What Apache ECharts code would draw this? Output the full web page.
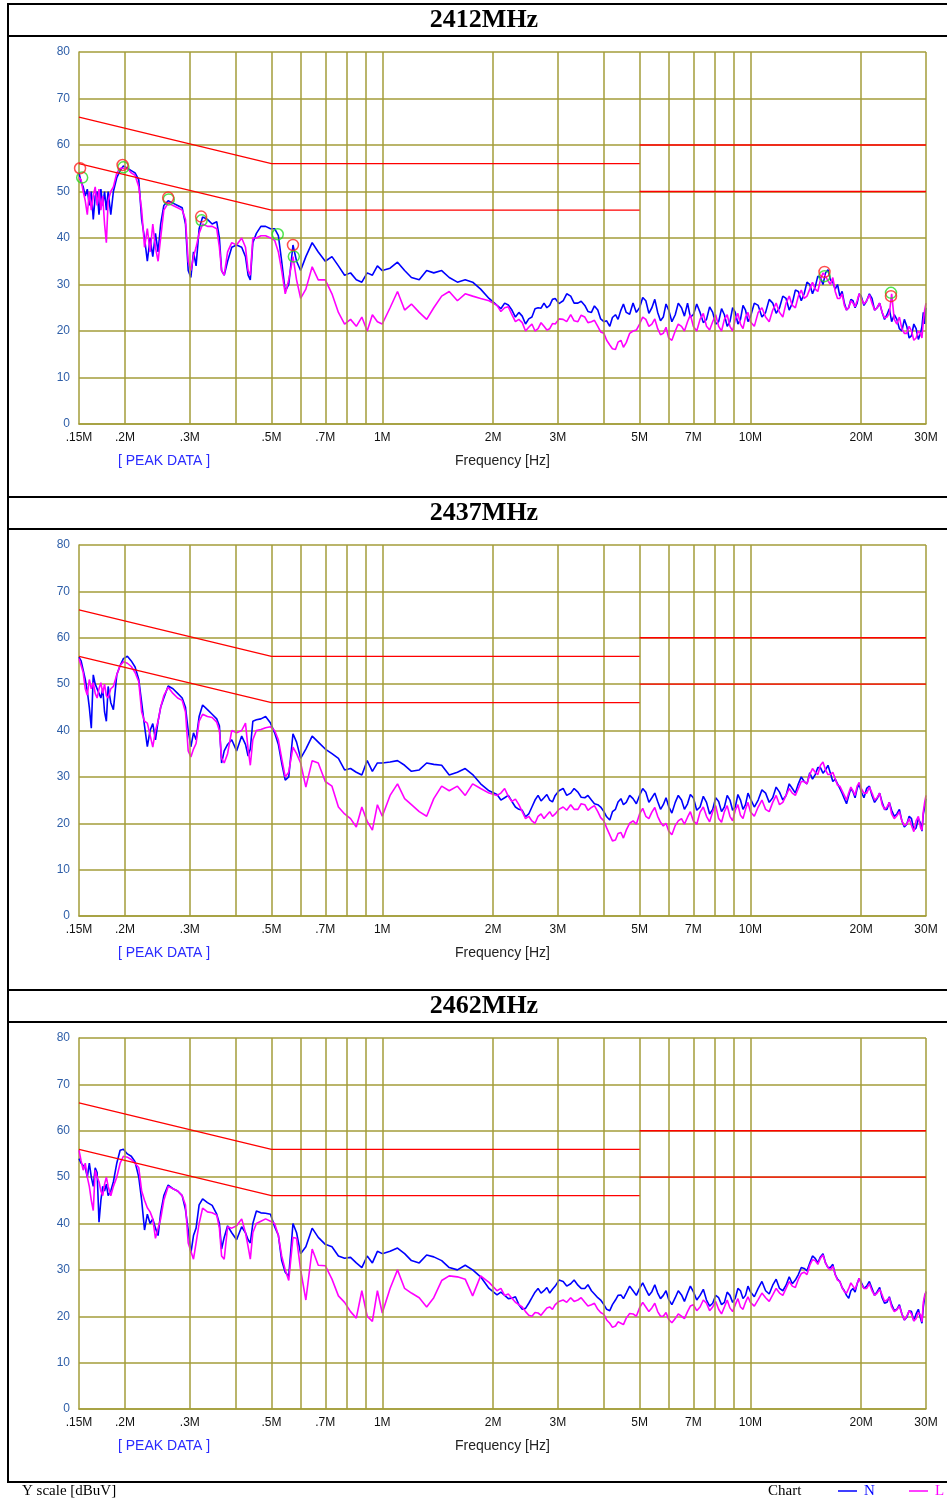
<!DOCTYPE html>
<html><head><meta charset="utf-8">
<script src="https://cdn.jsdelivr.net/npm/echarts@6/dist/echarts.min.js"></script>
<style>html,body{margin:0;padding:0;background:#fff}#c{width:947px;height:1499px}</style>
</head><body><div id="c"></div>
<script>
// ---------------- DATA ----------------
const panelTitles = ['2412MHz', '2437MHz', '2462MHz'];
const xTickVals = [0.15, 0.2, 0.3, 0.5, 0.7, 1, 2, 3, 5, 7, 10, 20, 30];
const xTickLabels = ['.15M', '.2M', '.3M', '.5M', '.7M', '1M', '2M', '3M', '5M', '7M', '10M', '20M', '30M'];
const xGridVals = [0.2, 0.3, 0.4, 0.5, 0.6, 0.7, 0.8, 0.9, 1, 2, 3, 4, 5, 6, 7, 8, 9, 10, 20, 30];

// limit lines (dBuV)
const limFreqLow = [0.15, 0.5, 5];
const qpLow = [66, 56, 56];
const avLow = [56, 46, 46];
const limFreqHigh = [5, 30];
const qpHigh = [60, 60];
const avHigh = [50, 50];

// measurement frequencies (MHz)
const freqMHz = [
  0.150, 0.152, 0.154, 0.156, 0.158, 0.160, 0.162, 0.164, 0.166, 0.168, 0.170, 0.172, 0.174, 0.176, 0.178, 0.180, 0.183, 0.186, 0.190, 0.194, 0.198,
  0.203, 0.208, 0.213, 0.218, 0.222, 0.226, 0.230, 0.234, 0.238, 0.242, 0.246, 0.250, 0.255, 0.262, 0.270, 0.278, 0.286, 0.292, 0.297, 0.302, 0.307, 0.312, 0.318, 0.325, 0.335, 0.345, 0.355, 0.361, 0.366, 0.372, 0.380, 0.390, 0.402, 0.415, 0.425, 0.432, 0.438, 0.445, 0.455, 0.468, 0.482, 0.497,
  0.510, 0.522, 0.533, 0.545, 0.557, 0.572, 0.585, 0.600, 0.620, 0.645, 0.670, 0.700, 0.730, 0.760, 0.790, 0.820, 0.850, 0.880, 0.910, 0.940, 0.970, 1.00, 1.05, 1.10, 1.15, 1.20, 1.26, 1.32, 1.38, 1.45, 1.52, 1.60, 1.68, 1.76, 1.85, 1.95,
  2.05, 2.10, 2.15, 2.20, 2.25, 2.30, 2.35, 2.40, 2.45, 2.50, 2.55, 2.60, 2.65, 2.70, 2.75, 2.80, 2.85, 2.90, 2.95, 3.02,
  3.1, 3.17, 3.25, 3.32, 3.4, 3.47, 3.55, 3.62, 3.7, 3.77, 3.85, 3.92, 4.0, 4.07, 4.15, 4.22, 4.3, 4.37, 4.45, 4.52,
  4.6, 4.7, 4.8, 4.9, 5.0, 5.1, 5.2, 5.3, 5.4, 5.5, 5.6, 5.7, 5.8, 5.9, 6.0, 6.12, 6.25, 6.37, 6.5, 6.62,
  6.75, 6.87, 7.0, 7.15, 7.3, 7.45, 7.6, 7.75, 7.9, 8.05, 8.2, 8.35, 8.5, 8.65, 8.8, 8.95, 9.1, 9.25, 9.4, 9.55,
  9.7, 9.85, 10, 10.25, 10.5, 10.75, 11, 11.25, 11.5, 11.75, 12, 12.25, 12.5, 12.75, 13, 13.25, 13.5, 13.75, 14, 14.25,
  14.5, 14.75, 15, 15.25, 15.5, 15.75, 16, 16.25, 16.5, 16.75, 17, 17.25, 17.5, 17.75, 18, 18.25, 18.5, 18.75, 19, 19.25,
  19.5, 19.75, 20, 20.35, 20.7, 21.05, 21.4, 21.75, 22.1, 22.45, 22.8, 23.15, 23.5, 23.85, 24.2, 24.6, 25, 25.4, 25.8, 26.2,
  26.6, 27, 27.4, 27.8, 28.2, 28.6, 29, 29.25, 29.5, 29.75, 30
];

// 2412MHz  N (blue) / L (magenta)
const n1 = [
  54, 52, 51, 49, 50.5, 47, 50, 44, 49, 50, 45, 50.5, 47, 50, 46, 50, 45, 50, 53, 54.5, 55.5,
  55, 54.5, 54, 52.5, 44, 40, 35, 40, 36, 41, 37, 43, 47, 48, 47.5, 47, 46.5, 43, 33, 31.5, 37, 34, 42, 44.5, 44, 43, 43.5, 40, 33, 32, 35, 38, 38.5, 38, 36, 32, 31, 39, 41, 42.5, 42.5, 42,
  42, 40.5, 35, 28.5, 30, 38.5, 35, 33, 36, 39, 37, 35, 36, 34, 32, 32.5, 31, 30.5, 32.5, 32, 34, 33, 33.5, 34.8, 33, 31.5, 31, 33, 32.5, 33, 31.5, 30.5, 31, 30.5, 29, 27,
  25.5, 24.8, 26, 25.6, 24.5, 23, 24, 23.2, 21.5, 22.6, 23, 24.8, 25, 24.9, 26, 25, 25.5, 26.8, 27, 25.9,
  26.5, 28, 27.5, 26, 26, 26.4, 25.5, 24.2, 24, 25.4, 24.5, 22.6, 22, 22.2, 21, 22.9, 23.5, 22.5, 24.5, 25.8,
  24, 23.6, 26, 24, 25, 27.2, 26.5, 23.8, 25, 26.8, 24, 22.2, 23, 25.8, 24.5, 22, 23.5, 26, 25, 23.2,
  26, 23, 23.5, 25.8, 24, 21.8, 22.5, 25.2, 24, 21.5, 22, 24.8, 23.5, 21, 22, 25, 24, 21.5, 22.5, 25.5,
  24.5, 22, 23, 26, 25.5, 23, 24, 26.8, 26, 23.8, 25, 27.5, 27, 24.5, 26, 28.8, 28.5, 26.5, 28, 30.5,
  30, 28, 29.5, 31.8, 31.5, 30, 32.5, 33.2, 31, 30.5, 29, 30, 27.5, 28.5, 26, 24.5, 25, 26.8, 26.5, 25,
  26, 28, 27.5, 25.5, 26.5, 28, 27, 24.5, 25, 26, 24, 22.5, 23.5, 24.8, 22, 23.5, 22.5, 20.5, 20, 22.5,
  21, 18.5, 19, 21.5, 20.5, 18.2, 19.5, 21, 24, 21.5, 25
];
const l1 = [
  53, 52.5, 50, 48, 45, 50, 46, 49, 51, 47, 50.5, 46, 49, 43, 39, 48, 50, 51, 54, 55, 55,
  55, 54, 53.5, 51, 46, 38, 42, 37, 43, 38, 35, 40, 46, 47.5, 47, 46.5, 46, 44, 35, 33, 36, 38, 41, 43, 42.5, 42.5, 42, 38, 33, 32, 37, 39, 38.5, 40, 38, 33, 32, 40, 40, 40.5, 40.5, 40,
  39.5, 37, 33, 28, 31, 36, 31, 27, 29, 33.8, 31, 31, 28, 24, 21.5, 22.5, 21, 23, 20, 23.5, 22, 21.5, 25, 28.5, 24.5, 25.8, 24, 22.5, 25, 27.5, 28.5, 26.5, 28, 27.5, 27, 26.5,
  25.5, 24.2, 25, 25.2, 23.5, 22, 22.5, 21.8, 20, 20.8, 21.5, 20, 20.5, 21.8, 21, 20.2, 20.5, 21.6, 21.5, 22.6,
  22.5, 22, 23.5, 22.2, 22, 23.4, 23, 21.8, 22, 22.3, 21, 19.8, 19.5, 18, 17, 16.2, 16, 17.6, 18, 16.5,
  17.5, 19.5, 20, 20.2, 21.5, 23, 22.5, 21, 21.5, 22.6, 20.5, 19.2, 19.5, 20.8, 18.5, 18, 20, 21.5, 21, 20,
  22, 23.5, 21, 20, 22.5, 23.8, 21, 20.2, 22, 23.5, 21, 20, 22.5, 23.5, 21, 20, 22.5, 23.8, 21.5, 20.5,
  23, 24, 22, 21, 24, 25, 23, 22, 24.5, 26, 24, 23, 26, 27.5, 25.5, 25, 27.5, 28.8, 27, 27.5,
  29, 30.5, 29, 28.5, 31, 32.5, 31.8, 30.8, 30, 31.5, 28.5, 27, 27, 28, 25.5, 24.5, 25, 26.5, 26, 25.2,
  26.5, 28, 27, 25.8, 26.5, 27.8, 26, 24.5, 25, 26, 24, 22.8, 23, 23.8, 28, 22.5, 21.5, 23, 20.5, 19.5,
  19.5, 21, 20, 18, 18.5, 20, 19.5, 18.5, 22, 24.5, 26
];
// 2437MHz
const n2 = [
  55.8, 55, 53, 51, 48.5, 45, 40.5, 52, 50, 50, 48, 47, 49, 44, 42, 49.5, 46, 44.5, 52, 54, 55.5,
  56, 55, 53.7, 51, 46, 41, 36.5, 40, 41.5, 38, 42, 45, 47, 49.6, 49, 48, 47, 45, 40, 36.5, 39.5, 38, 43, 45.5, 44.5, 43.5, 42.5, 41, 33, 35.6, 37, 38, 35.6, 38.8, 37, 34.5, 36, 42, 42.3, 42.5, 43, 41.6,
  39.5, 37, 33, 29.3, 30, 39.3, 37.5, 34, 36, 38.8, 37.5, 36, 35, 34, 31.5, 31.8, 31, 30.4, 33.5, 31.2, 33, 33, 33.2, 33.5, 32.5, 31.2, 31.5, 33, 32.7, 32.5, 30.4, 31, 31.8, 30.5, 28.5, 27,
  26.2, 25, 25.5, 26, 24.7, 23.5, 23, 22.8, 21.4, 22, 23.5, 25, 26, 24.8, 25.5, 26.2, 25, 24.6, 26, 27,
  27.5, 26, 26.5, 27.5, 26.7, 25.6, 25.5, 26, 25, 24.2, 24, 23.5, 22.5, 21.4, 20.7, 22.5, 23, 24.6, 25.3, 24,
  24.5, 26, 25.3, 24.2, 26, 27.5, 26.7, 24.5, 25.5, 26.5, 24.7, 23, 24, 25.5, 23.6, 22.2, 24.5, 26, 25, 23,
  24.2, 26.2, 25.5, 22.8, 23.5, 25.8, 24.5, 22, 23, 25.5, 24.7, 22.5, 23.5, 26, 25, 22.8, 23.5, 26.2, 25, 23,
  24, 26.5, 25.3, 23.5, 25, 27.2, 26.5, 24.5, 25.5, 27.8, 26.7, 25, 26, 28.5, 27.5, 26.5, 28.5, 30, 29, 28.5,
  30.9, 29.5, 30.5, 32, 32, 30.8, 31.5, 32.5, 30.8, 29, 29.5, 28.5, 27.5, 26.5, 25.3, 24.2, 26, 27.5, 26.8, 25.5,
  27.5, 28.5, 26.8, 25.5, 27.5, 28, 26, 24.5, 25.3, 26.5, 24.5, 23, 23, 24.5, 22.8, 21.5, 22, 23, 20.5, 19.2,
  19.8, 21.5, 21, 18.5, 19, 21, 20, 18.3, 22, 23.5, 25.3
];
const l2 = [
  55.5, 54, 52.5, 49, 47.6, 51, 49, 50.3, 48, 47, 49, 50.3, 48, 50, 47.5, 47, 49, 49.5, 52, 54, 54.8,
  54.5, 53.8, 52.5, 50.5, 44, 42, 41.6, 39, 36.4, 40, 42, 45, 47.5, 49.3, 48, 47, 46.5, 44, 35.6, 34.3, 36, 37.2, 42, 43.5, 43, 42.8, 41.8, 40, 34, 33, 35, 40, 39.5, 40, 41.6, 36, 32.5, 38, 40, 40.2, 40.6, 40.8,
  40, 38, 34, 30, 31, 36.4, 35, 33, 27.8, 33.5, 33, 29, 28, 23.5, 22, 21, 19.2, 23.5, 20.4, 18.5, 24, 21.5, 26, 28.5, 25.3, 24, 22.5, 21.5, 25.3, 28, 27, 28, 26, 28.5, 27.5, 26.5,
  26, 26.5, 27.5, 25.8, 24.7, 25.2, 24, 22.5, 21, 21.5, 20.5, 20, 21.5, 22, 21, 21.8, 22.5, 21.5, 22, 23,
  23.5, 22.8, 24, 23, 23, 24.2, 24, 22.8, 23.4, 23.8, 22.5, 21.2, 20.5, 19, 17.5, 16.2, 16.4, 17.8, 18, 16.8,
  18.5, 20, 20.5, 19.8, 22, 23.2, 21.5, 21, 22.4, 23.4, 21.5, 20.2, 19.4, 20, 18.3, 17.5, 19.5, 20.5, 21, 19.8,
  21.3, 22.5, 20.5, 19.8, 22.4, 23.5, 21.5, 20.3, 22.5, 23.8, 21, 20.2, 22.5, 23.8, 21.5, 20.5, 22.8, 24, 21.7, 21,
  23, 24.5, 22.5, 21.5, 23.5, 25, 23, 22.5, 24.5, 26, 24, 24.5, 26, 27.5, 26.5, 26, 27.5, 29, 29, 28.5,
  30.5, 31.8, 31, 30.5, 32.5, 33.2, 31.5, 30.5, 30.5, 31, 29.6, 28.2, 28, 27, 26, 25, 26.5, 27.8, 27, 26,
  28, 28.8, 27.5, 26.5, 26.5, 27.8, 26.5, 25, 25.5, 26.5, 24, 23, 23.5, 24.5, 22, 21, 21.6, 22.5, 20.5, 19.5,
  19.8, 21, 19.5, 18.2, 20.5, 21.5, 19, 18.5, 22.5, 24.5, 26
];
// 2462MHz
const n3 = [
  54, 53, 52.5, 52, 50, 53, 50, 48, 52, 51, 40.3, 45, 48, 47, 48.5, 46, 47, 49, 53, 55.8, 56,
  55, 54.5, 53.3, 50, 45, 38.6, 42, 40, 41, 39, 37.4, 42.3, 46, 48.3, 47.5, 47, 46, 43, 38.6, 33.6, 37.4, 39, 44, 45.3, 44.5, 43.9, 42, 40, 34.5, 37, 39.5, 38, 36.5, 39.3, 38, 36.5, 35.8, 40, 42.7, 42.3, 42.2, 42,
  39.3, 37.5, 32, 29.5, 28.6, 40, 38, 33.5, 35, 39, 37, 35.5, 35, 33, 32.5, 32.7, 31.5, 30.5, 33, 31.5, 34, 33.5, 34, 34.7, 33.5, 32, 31.5, 33.2, 32.8, 32, 30.5, 30, 31, 30, 28.5, 26,
  24.6, 25.2, 24.5, 23.8, 23.9, 24.2, 22.5, 21.5, 21.7, 22.8, 24, 25.2, 26, 25, 25.5, 26.2, 25, 25.8, 26.5, 27.8,
  27.5, 26.5, 27, 27.8, 26.7, 26, 26, 26.8, 25.5, 24.8, 24, 23.5, 22.5, 21.5, 21.2, 22.5, 23.5, 24.5, 24.6, 23.8,
  25, 26.5, 25.5, 24.5, 26, 27.2, 25.8, 24.5, 25.3, 26.8, 25, 23.8, 24.5, 25.5, 23.6, 22.5, 24, 25.5, 24.6, 23.2,
  25, 26.5, 25.3, 23.5, 24.5, 25.8, 23.5, 22.2, 22.8, 24.5, 24, 22.5, 23, 25.2, 24.5, 23, 23.9, 26, 25.5, 23.8,
  24.5, 26.5, 25.3, 24.2, 26, 27.5, 25.5, 24.8, 26.7, 28, 26, 25.5, 26.7, 28.5, 27, 27.8, 29, 30.5, 30.3, 29.8,
  31.5, 33, 32.5, 31.5, 32.8, 33.5, 31.5, 30.5, 30.5, 31.2, 29, 28, 27.5, 26.2, 25.5, 24.5, 23.9, 25.5, 26, 25.2,
  27, 28.2, 27.3, 26, 26.5, 27.5, 26, 24.5, 25.3, 26.2, 24, 22.8, 23, 24.2, 22.5, 21.2, 21.5, 22.5, 20.5, 19.2,
  19.8, 21.2, 21, 19, 20.5, 21.5, 19.5, 18.5, 22, 24, 25.3
];
const l3 = [
  55.8, 53.5, 51.5, 53, 50, 48, 45, 42.8, 51.5, 50, 49, 47, 46, 48.5, 50, 48, 46, 48, 50, 53, 54.5,
  54.3, 53.8, 53, 52, 47, 45, 43.4, 42.5, 41, 36.8, 39, 41, 45, 48, 47.5, 47, 46, 44, 35.8, 34, 32.3, 35.8, 40, 43.3, 42.5, 42.3, 41.8, 39, 33, 32.3, 39.3, 39, 39.5, 41, 38, 35, 32.3, 38, 40, 40.5, 41, 40.5,
  40, 37.4, 33, 30, 27.7, 37, 36.8, 30, 23.5, 34.5, 31, 30.9, 28, 24.4, 23, 21, 19.6, 25.5, 20, 18.9, 25.5, 20.7, 26, 30, 26, 25, 24, 22, 24, 27.7, 28.7, 28.5, 28, 24.4, 28.7, 27.3,
  25.5, 26, 24.5, 24.8, 23.9, 23, 22.5, 22, 21, 20.2, 20, 20.8, 20.7, 20.2, 21, 21.8, 22, 21.5, 22.5, 23.2,
  23.5, 23, 24, 23.2, 23.5, 24, 23, 22.2, 22.5, 22.8, 21.5, 20.8, 20.4, 19.2, 18.5, 17.6, 17.9, 18.8, 18.5, 18.2,
  19.6, 20.6, 20.5, 20, 21.8, 23, 22, 21, 21.8, 22.8, 21, 20, 20, 20.8, 19.3, 18.6, 19.5, 20.5, 20, 19.5,
  21, 22.2, 22.5, 21.2, 22, 23.5, 22.8, 21.2, 22, 23.2, 21.5, 20.5, 22, 23.5, 21.8, 21, 22.5, 23.8, 22, 21.5,
  23, 24.2, 23, 22.2, 23.6, 25, 24, 23.2, 24.6, 26, 25, 24.5, 26, 27.5, 26.5, 26.2, 28, 29.2, 29.5, 29,
  31, 32.2, 32, 31.2, 32.5, 33.2, 31.5, 30.5, 30, 30.8, 29, 27.8, 27.5, 26.2, 25.3, 25, 26, 27.2, 26.5, 25.8,
  27, 28.2, 27, 26, 26, 27, 25.5, 24.5, 25, 25.8, 24.6, 23.2, 23.5, 24, 22, 21, 21.4, 22.2, 20.5, 19.2,
  20, 21.2, 20.5, 19, 19.5, 20.8, 20.3, 18.8, 23, 24.5, 25.3
];

// peak markers (2412MHz only)
const peakRedFreq = [0.151, 0.197, 0.262, 0.322, 0.572, 15.9, 24.1];
const peakRedVal  = [55, 55.7, 48.7, 44.6, 38.5, 32.7, 27.5];
const peakGreenFreq = [0.153, 0.198, 0.263, 0.323, 0.52, 0.575, 15.9, 24.1];
const peakGreenVal  = [53, 55.2, 48.3, 43.8, 40.8, 36, 31.8, 28.2];

// ---------------- CHART ----------------
const SANS = '"Liberation Sans", Arial, sans-serif';
const SERIF = '"Liberation Serif", "Times New Roman", serif';
const OLIVE = '#a39d3a';
const BLUE = '#0000ff', MAG = '#ff00ff', RED = '#ff0000';

const panelTops = [52, 545, 1038];
const panelHeights = [372, 371, 371];
const titleYs = [20, 513, 1006];
const nSeries = [n1, n2, n3];
const lSeries = [l1, l2, l3];

const zip = (xs, ys) => xs.map((x, i) => [x, ys[i]]);

const grids = [], xAxes = [], yAxes = [], series = [], graphics = [];

for (let p = 0; p < 3; p++) {
  grids.push({ left: 79, width: 847, top: panelTops[p], height: panelHeights[p], containLabel: false });
  xAxes.push({
    type: 'log', logBase: 10, min: 0.15, max: 30, gridIndex: p,
    axisLine: { show: true, onZero: false, lineStyle: { color: OLIVE, width: 1.5 } },
    axisTick: { show: false },
    splitLine: { show: false },
    minorSplitLine: { show: false },
    axisLabel: {
      show: true, customValues: xTickVals, margin: 8, color: '#111', fontSize: 12, fontFamily: SANS,
      formatter: v => { const i = xTickVals.findIndex(t => Math.abs(t - v) < 1e-6 * Math.max(1, t)); return i >= 0 ? xTickLabels[i] : ''; }
    }
  });
  yAxes.push({
    type: 'value', min: 0, max: 80, interval: 10, gridIndex: p,
    axisLine: { show: true, lineStyle: { color: OLIVE, width: 1.5 } },
    axisTick: { show: false },
    splitLine: { show: true, lineStyle: { color: OLIVE, width: 1.5 } },
    axisLabel: { color: '#2f5fa8', fontSize: 12, fontFamily: SANS, margin: 9 }
  });
  series.push({
    type: 'line', xAxisIndex: p, yAxisIndex: p, data: [], z: 1, silent: true, animation: false,
    markLine: {
      silent: true, symbol: ['none', 'none'], animation: false, label: { show: false },
      lineStyle: { color: OLIVE, width: 1.5, type: 'solid' },
      data: xGridVals.map(v => ({ xAxis: v }))
    }
  });
  series.push({
    name: 'N', type: 'line', xAxisIndex: p, yAxisIndex: p, data: zip(freqMHz, nSeries[p]),
    showSymbol: false, symbol: 'none', z: 3, animation: false,
    lineStyle: { color: BLUE, width: 1.6 }
  });
  series.push({
    name: 'L', type: 'line', xAxisIndex: p, yAxisIndex: p, data: zip(freqMHz, lSeries[p]),
    showSymbol: false, symbol: 'none', z: 4, animation: false,
    lineStyle: { color: MAG, width: 1.6 }
  });
  [[limFreqLow, qpLow], [limFreqLow, avLow], [limFreqHigh, qpHigh], [limFreqHigh, avHigh]].forEach(([fx, vy]) => {
    series.push({
      type: 'line', xAxisIndex: p, yAxisIndex: p, data: zip(fx, vy),
      showSymbol: false, symbol: 'none', z: 5, animation: false, silent: true,
      lineStyle: { color: RED, width: 1.3 }
    });
  });
  if (p === 0) {
    series.push({
      type: 'scatter', xAxisIndex: 0, yAxisIndex: 0, data: zip(peakGreenFreq, peakGreenVal),
      symbol: 'circle', symbolSize: 11, z: 6, animation: false, silent: true,
      itemStyle: { color: 'rgba(0,0,0,0)', borderColor: '#22dd22', borderWidth: 1.5 }
    });
    series.push({
      type: 'scatter', xAxisIndex: 0, yAxisIndex: 0, data: zip(peakRedFreq, peakRedVal),
      symbol: 'circle', symbolSize: 11, z: 7, animation: false, silent: true,
      itemStyle: { color: 'rgba(0,0,0,0)', borderColor: '#ff2222', borderWidth: 1.5 }
    });
  }
  graphics.push({ type: 'text', x: 484, y: titleYs[p], style: { text: panelTitles[p], font: 'bold 26px ' + SERIF, fill: '#000', align: 'center', verticalAlign: 'middle' } });
  const capY = panelTops[p] + panelHeights[p] + 37;
  graphics.push({ type: 'text', x: 118, y: capY, style: { text: '[ PEAK DATA ]', font: '14px ' + SANS, fill: '#2a2aff', align: 'left', verticalAlign: 'middle' } });
  graphics.push({ type: 'text', x: 455, y: capY, style: { text: 'Frequency [Hz]', font: '14px ' + SANS, fill: '#222', align: 'left', verticalAlign: 'middle' } });
}

const hLines = [4, 36, 497, 529, 990, 1022, 1482];
hLines.forEach(y => graphics.push({ type: 'line', shape: { x1: 8, y1: y, x2: 947, y2: y }, style: { stroke: '#000', lineWidth: 2 } }));
graphics.push({ type: 'line', shape: { x1: 8, y1: 3, x2: 8, y2: 1483 }, style: { stroke: '#000', lineWidth: 2 } });
graphics.push({ type: 'text', x: 22, y: 1491, style: { text: 'Y scale [dBuV]', font: '15px ' + SERIF, fill: '#000', verticalAlign: 'middle' } });
graphics.push({ type: 'text', x: 768, y: 1491, style: { text: 'Chart', font: '15px ' + SERIF, fill: '#000', verticalAlign: 'middle' } });
graphics.push({ type: 'line', shape: { x1: 838, y1: 1491, x2: 857, y2: 1491 }, style: { stroke: BLUE, lineWidth: 1.5 } });
graphics.push({ type: 'text', x: 864, y: 1491, style: { text: 'N', font: '15px ' + SERIF, fill: BLUE, verticalAlign: 'middle' } });
graphics.push({ type: 'line', shape: { x1: 909, y1: 1491, x2: 928, y2: 1491 }, style: { stroke: MAG, lineWidth: 1.5 } });
graphics.push({ type: 'text', x: 935, y: 1491, style: { text: 'L', font: '15px ' + SERIF, fill: MAG, verticalAlign: 'middle' } });

const chart = echarts.init(document.getElementById('c'), null, { renderer: 'canvas', width: 947, height: 1499 });
chart.setOption({
  backgroundColor: '#fff',
  animation: false,
  grid: grids, xAxis: xAxes, yAxis: yAxes, series: series,
  graphic: { elements: graphics }
});
</script></body></html>
